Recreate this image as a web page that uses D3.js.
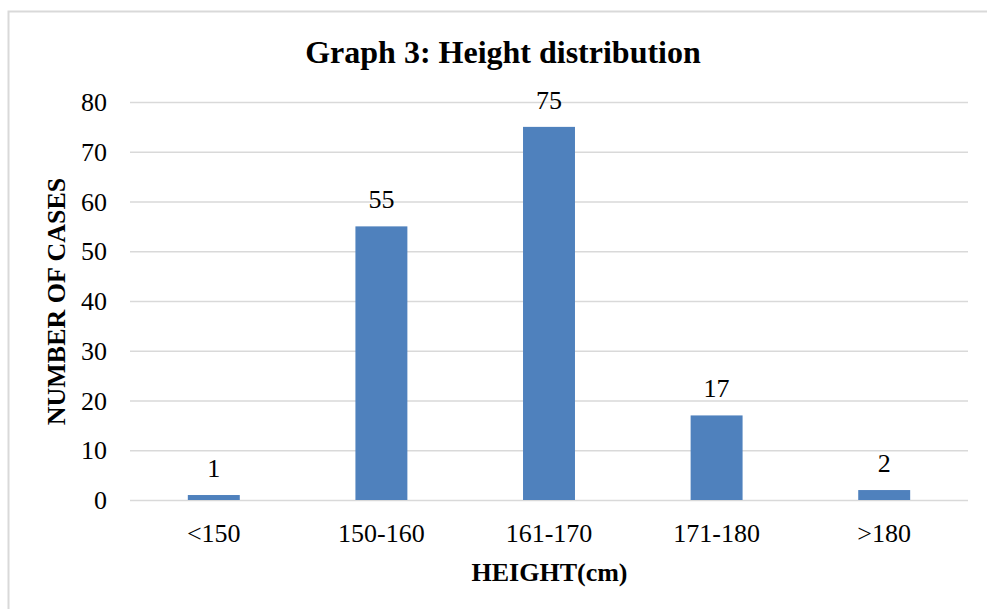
<!DOCTYPE html>
<html><head><meta charset="utf-8">
<script src="https://cdn.jsdelivr.net/npm/d3@7"></script>
<style>html,body{margin:0;padding:0;background:#fff;}svg{display:block;}</style>
</head><body>
<svg id="chart" width="987" height="609"></svg>
<script>
const categories = ["<150", "150-160", "161-170", "171-180", ">180"];
const values = [1, 55, 75, 17, 2];
const yTicks = [0, 10, 20, 30, 40, 50, 60, 70, 80];
const titleText = "Graph 3: Height distribution";
const xTitle = "HEIGHT(cm)";
const yTitle = "NUMBER OF CASES";

const svg = d3.select("#chart");
const font = "'Liberation Serif','Times New Roman',serif";
const m = {left: 130, right: 968, top: 102, bottom: 500};

// outer border (only top/left visible)
svg.append("rect").attr("x", 8.5).attr("y", 11.5).attr("width", 1000).attr("height", 700)
  .attr("fill", "none").attr("stroke", "#d9d9d9").attr("stroke-width", 2);

const x = d3.scaleBand().domain(categories).range([m.left, m.right]).paddingInner(0.69).paddingOuter(0.345);
const y = d3.scaleLinear().domain([0, 80]).range([m.bottom, m.top]);

// gridlines
const grid = d3.axisLeft(y).tickValues(yTicks).tickSize(-(m.right - m.left)).tickFormat("");
const gg = svg.append("g").attr("transform", `translate(${m.left},0)`).call(grid);
gg.select(".domain").remove();
gg.selectAll(".tick line").attr("stroke", "#d9d9d9").attr("stroke-width", 1.5);

// y tick labels
const ya = d3.axisLeft(y).tickValues(yTicks).tickSize(0).tickPadding(23);
const yg = svg.append("g").attr("transform", `translate(${m.left},0)`).call(ya);
yg.select(".domain").remove();
yg.selectAll("text").attr("font-family", font).attr("font-size", 26).attr("fill", "#000").attr("dy", "0.33em");

// bars
svg.append("g").selectAll("rect").data(values).join("rect")
  .attr("x", (d, i) => x(categories[i]))
  .attr("width", x.bandwidth())
  .attr("y", d => y(d))
  .attr("height", d => y(0) - y(d))
  .attr("fill", "#4f81bd");

// value labels
svg.append("g").selectAll("text").data(values).join("text")
  .attr("x", (d, i) => x(categories[i]) + x.bandwidth() / 2)
  .attr("y", d => y(d) - 18)
  .attr("text-anchor", "middle")
  .attr("font-family", font).attr("font-size", 26).attr("fill", "#000")
  .text(d => d);

// x axis labels
const xg = svg.append("g");
xg.selectAll("text").data(categories).join("text")
  .attr("x", d => x(d) + x.bandwidth() / 2)
  .attr("y", 542)
  .attr("text-anchor", "middle")
  .attr("font-family", font).attr("font-size", 26).attr("fill", "#000")
  .text(d => d);

// titles
svg.append("text").attr("x", 503).attr("y", 63).attr("text-anchor", "middle")
  .attr("font-family", font).attr("font-size", 32).attr("font-weight", "bold").text(titleText);
svg.append("text").attr("x", 549.5).attr("y", 581).attr("text-anchor", "middle")
  .attr("font-family", font).attr("font-size", 26).attr("font-weight", "bold").text(xTitle);
svg.append("text").attr("transform", "translate(65,301.5) rotate(-90)").attr("text-anchor", "middle")
  .attr("font-family", font).attr("font-size", 26).attr("font-weight", "bold").text(yTitle);
</script>
</body></html>
